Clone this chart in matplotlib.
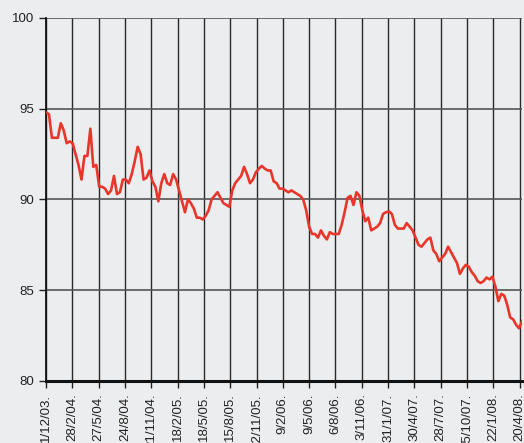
import matplotlib
matplotlib.use("Agg")
import matplotlib.pyplot as plt
import pandas as pd

# values, one every 10 days from 1 Dec 2003
start = "2003-12-01"
step_days = 10
values = [
    94.8, 94.7, 93.4, 93.4, 93.4, 94.2, 93.8, 93.1, 93.2, 93.1,
    92.5, 91.9, 91.1, 92.4, 92.4, 93.9, 91.8, 91.9, 90.7, 90.7,
    90.6, 90.3, 90.5, 91.3, 90.3, 90.4, 91.1, 91.1, 90.9, 91.4,
    92.1, 92.9, 92.5, 91.1, 91.2, 91.6, 91.0, 90.7, 89.9, 90.9,
    91.4, 90.9, 90.8, 91.4, 91.1, 90.5, 89.9, 89.3, 90.0, 89.8,
    89.5, 89.0, 89.0, 88.9, 89.1, 89.4, 90.0, 90.2, 90.4, 90.1,
    89.8, 89.7, 89.6, 90.5, 90.9, 91.1, 91.3, 91.8, 91.4, 90.9,
    91.1, 91.5, 91.7, 91.85, 91.7, 91.6, 91.6, 91.0, 90.9, 90.6,
    90.6, 90.5, 90.4, 90.5, 90.4, 90.3, 90.2, 90.0, 89.4, 88.5,
    88.1, 88.1, 87.9, 88.3, 88.0, 87.8, 88.2, 88.1, 88.1, 88.1,
    88.6, 89.3, 90.1, 90.2, 89.7, 90.4, 90.2, 89.4, 88.8, 89.0,
    88.3, 88.4, 88.5, 88.7, 89.2, 89.3, 89.35, 89.2, 88.6, 88.4,
    88.4, 88.4, 88.7, 88.5, 88.3, 87.9, 87.5, 87.4, 87.6, 87.8,
    87.9, 87.2, 87.0, 86.6, 86.8, 87.0, 87.4, 87.1, 86.8, 86.5,
    85.9, 86.2, 86.4, 86.3, 86.0, 85.8, 85.5, 85.4, 85.5, 85.7,
    85.6, 85.75, 85.2, 84.4, 84.8, 84.7, 84.2, 83.5, 83.4, 83.1,
    82.9, 83.3,
]
dates = pd.date_range(start, periods=len(values), freq=f"{step_days}D")

# x ticks every 89 days, y ticks every 5
tick_dates = pd.date_range(start, periods=19, freq="89D")
tick_labels = [f"{d.day}/{d.month}/{d.strftime('%y')}." for d in tick_dates]
y_ticks = [80, 85, 90, 95, 100]

bg = "#ecedef"
plt.rcParams["font.family"] = ["Liberation Sans", "DejaVu Sans"]

fig = plt.figure(figsize=(5.24, 4.43), dpi=100, facecolor=bg)
ax = fig.add_axes([46 / 524, 1 - 381 / 443, 476 / 524, 363 / 443], facecolor=bg)

ax.plot(dates, values, color="#e8362a", lw=1.9, zorder=3)

ax.set_ylim(80, 100)
ax.set_xlim(dates[0], dates[-1])
ax.set_yticks(y_ticks)
ax.set_xticks(tick_dates)
ax.set_xticklabels(tick_labels, rotation=90, va="top", ha="center")

ax.grid(True, axis="x", color="#2a2a2a", lw=1.0)
ax.grid(True, axis="y", color="#555555", lw=1.2)
ax.set_axisbelow(True)

for side in ["top", "right"]:
    ax.spines[side].set_visible(False)
ax.spines["left"].set_color("#111111")
ax.spines["left"].set_linewidth(1.3)
ax.spines["bottom"].set_color("#111111")
ax.spines["bottom"].set_linewidth(2.2)

ax.tick_params(axis="both", labelsize=9.5, colors="#222222", length=5, width=1.0)
ax.tick_params(axis="x", pad=4)

fig.savefig("out.png", dpi=100, facecolor=bg)
